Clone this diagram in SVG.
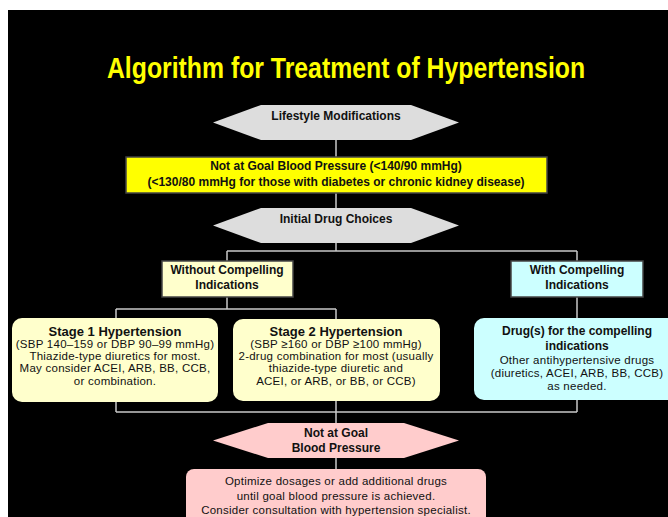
<svg xmlns="http://www.w3.org/2000/svg" width="668" height="517" viewBox="0 0 668 517">
<style>
.t{font-family:"Liberation Sans",Arial,sans-serif;fill:#111;text-anchor:middle}
.b{font-weight:bold;font-size:12px}
.h{font-weight:bold;font-size:13px}
.r{font-size:11.5px;letter-spacing:0.25px}
.title{font-family:"Liberation Sans",Arial,sans-serif;font-weight:bold;font-size:30px;fill:#FFFF00;text-anchor:middle}
.hex{fill:#DDDDDD}
.conn{fill:none;stroke:#C8C8C8;stroke-width:1.5}
.box{stroke:#444;stroke-width:1.5}
</style>
<rect x="0" y="0" width="668" height="517" fill="#fff"/>
<rect x="8" y="10" width="660" height="507" fill="#000"/>
<text class="title" transform="translate(346,78) scale(0.78,1)" x="0" y="0" textLength="613" lengthAdjust="spacingAndGlyphs">Algorithm for Treatment of Hypertension</text>
<g id="connectors">
<path class="conn" d="M336 140V157M336 193V208M336 243V251M227 251H577M227 251V261M577 251V261M227 297V309M116 309H336M116 309V318M336 309V319M577 297V318M116 402V412M336 401V412M577 400V412M116 412H577M336 412V423M336 458V469"/>
</g>
<g id="lifestyle">
<polygon class="hex" points="213,122.5 261,105 411,105 459,122.5 411,140 261,140"/>
<text class="t b" x="336" y="120">Lifestyle Modifications</text>
</g>
<g id="not-at-goal-1">
<rect class="box" x="126" y="157" width="421" height="36" fill="#FFFF00"/>
<text class="t b" x="336" y="170">Not at Goal Blood Pressure (&lt;140/90 mmHg)</text>
<text class="t b" x="336" y="186">(&lt;130/80 mmHg for those with diabetes or chronic kidney disease)</text>
</g>
<g id="initial">
<polygon class="hex" points="213,225.5 261,208 411,208 459,225.5 411,243 261,243"/>
<text class="t b" x="336" y="223">Initial Drug Choices</text>
</g>
<g id="without">
<rect class="box" x="162" y="261" width="131" height="36" fill="#FFFFCC"/>
<text class="t b" x="227" y="274">Without Compelling</text>
<text class="t b" x="227" y="289">Indications</text>
</g>
<g id="with">
<rect class="box" x="511" y="261" width="132" height="36" fill="#CCFFFF"/>
<text class="t b" x="577" y="274">With Compelling</text>
<text class="t b" x="577" y="289">Indications</text>
</g>
<g id="stage1">
<rect x="12" y="318" width="206" height="84" rx="10" fill="#FFFFCC"/>
<text class="t h" x="115" y="336">Stage 1 Hypertension</text>
<text class="t r" x="115" y="348">(SBP 140–159 or DBP 90–99 mmHg)</text>
<text class="t r" x="115" y="360">Thiazide-type diuretics for most.</text>
<text class="t r" x="115" y="372">May consider ACEI, ARB, BB, CCB,</text>
<text class="t r" x="115" y="385">or combination.</text>
</g>
<g id="stage2">
<rect x="233" y="319" width="207" height="82" rx="10" fill="#FFFFCC"/>
<text class="t h" x="336" y="336">Stage 2 Hypertension</text>
<text class="t r" x="336" y="348">(SBP ≥160 or DBP ≥100 mmHg)</text>
<text class="t r" x="336" y="360">2-drug combination for most (usually</text>
<text class="t r" x="336" y="372">thiazide-type diuretic and</text>
<text class="t r" x="336" y="385">ACEI, or ARB, or BB, or CCB)</text>
</g>
<g id="compelling-drugs">
<rect x="474" y="318" width="204" height="82" rx="10" fill="#CCFFFF"/>
<text class="t b" x="577" y="335">Drug(s) for the compelling</text>
<text class="t b" x="577" y="350">indications</text>
<text class="t r" x="577" y="364">Other antihypertensive drugs</text>
<text class="t r" x="577" y="377">(diuretics, ACEI, ARB, BB, CCB)</text>
<text class="t r" x="577" y="390">as needed.</text>
</g>
<g id="not-at-goal-2">
<polygon points="213,440.5 268,423 404,423 459,440.5 404,458 268,458" fill="#FFCCCC"/>
<text class="t b" x="336" y="437">Not at Goal</text>
<text class="t b" x="336" y="452">Blood Pressure</text>
</g>
<g id="optimize">
<rect x="186" y="469" width="300" height="60" rx="8" fill="#FFCCCC"/>
<text class="t r" x="336" y="485">Optimize dosages or add additional drugs</text>
<text class="t r" x="336" y="500">until goal blood pressure is achieved.</text>
<text class="t r" x="336" y="514">Consider consultation with hypertension specialist.</text>
</g>
</svg>
